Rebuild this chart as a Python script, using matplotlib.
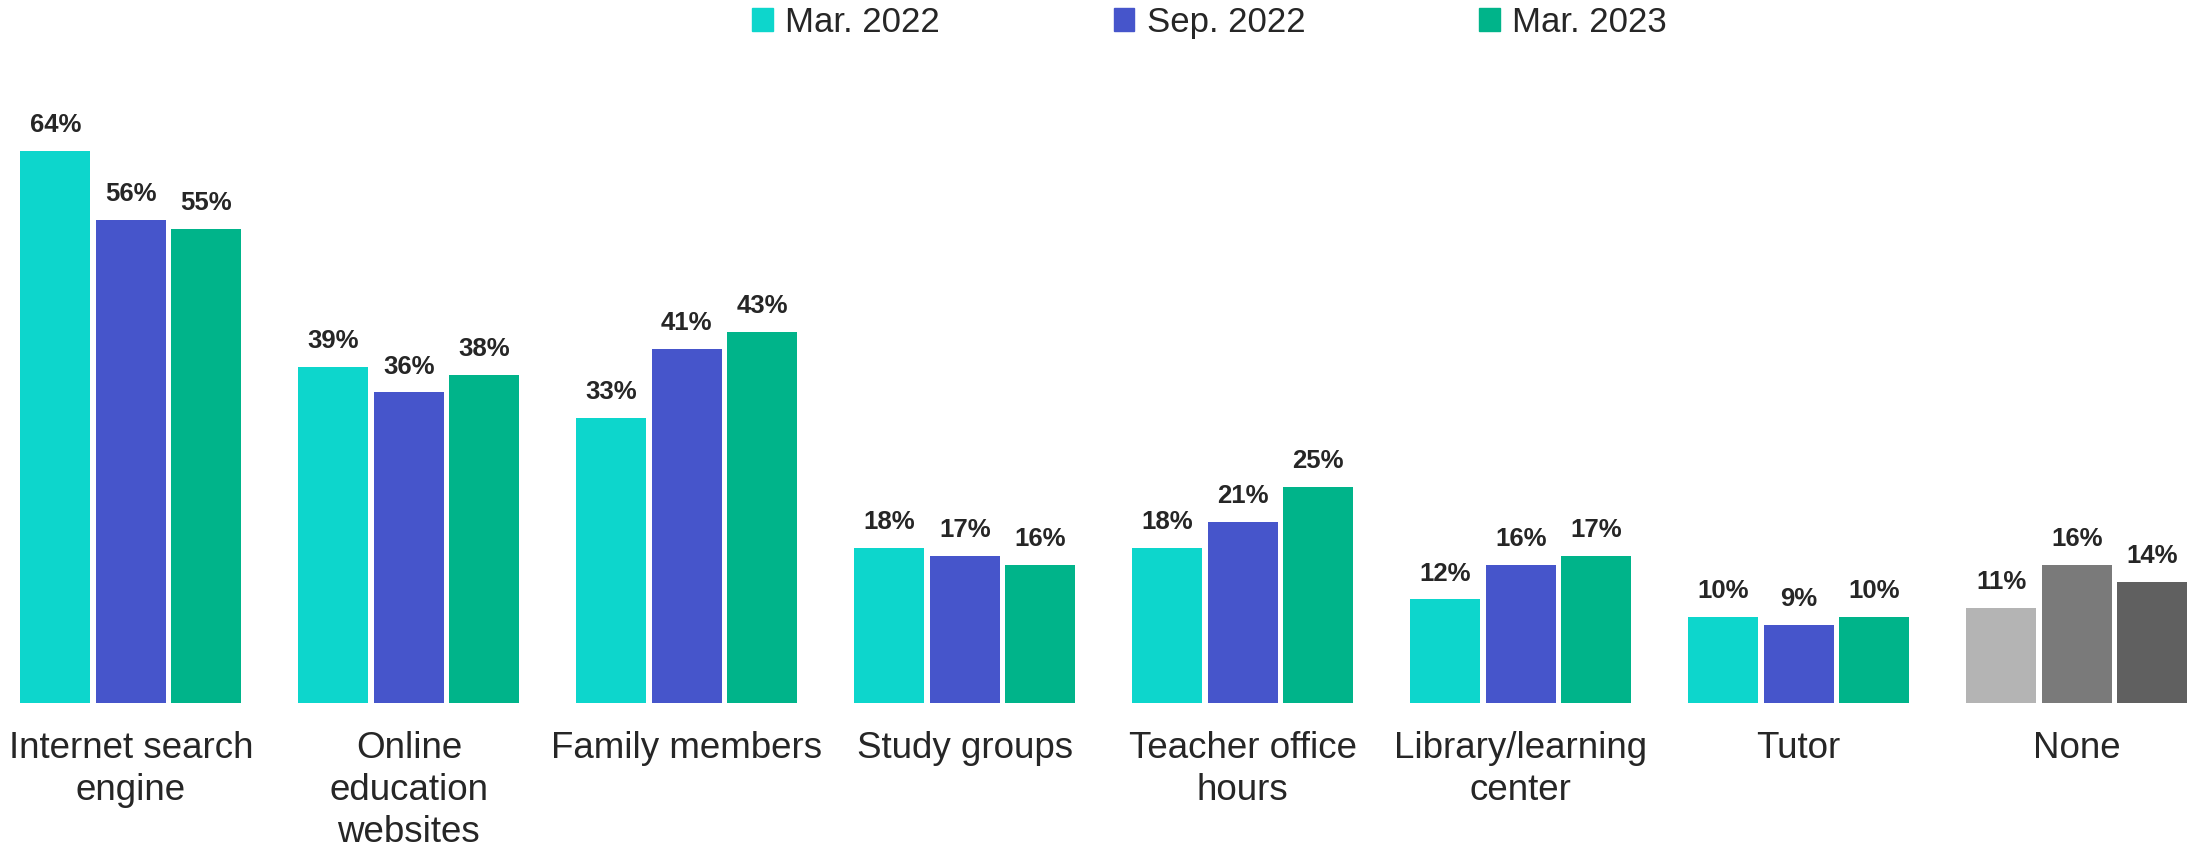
import matplotlib.pyplot as plt
import numpy as np
from matplotlib.patches import Patch

plt.rcParams['font.family'] = ['Liberation Sans', 'DejaVu Sans']

categories = ['Internet search\nengine', 'Online\neducation\nwebsites', 'Family members',
              'Study groups', 'Teacher office\nhours', 'Library/learning\ncenter', 'Tutor', 'None']
series = ['Mar. 2022', 'Sep. 2022', 'Mar. 2023']
mar22 = [64, 39, 33, 18, 18, 12, 10, 11]
sep22 = [56, 36, 41, 17, 21, 16, 9, 16]
mar23 = [55, 38, 43, 16, 25, 17, 10, 14]

colors = ['#0DD6CC', '#4655CB', '#00B48A']
none_colors = ['#B4B4B4', '#7A7A7A', '#606060']
text_color = '#262626'

fig = plt.figure(figsize=(21.87, 8.5), dpi=100)
ax = fig.add_axes([0, 0.173, 1, 0.827])

x = np.arange(len(categories))
step = 0.2716
width = 0.252
for i, vals in enumerate([mar22, sep22, mar23]):
    cols = [colors[i]] * (len(categories) - 1) + [none_colors[i]]
    bars = ax.bar(x + (i - 1) * step, vals, width=width, color=cols)
    for b, v in zip(bars, vals):
        ax.annotate('%d%%' % v, (b.get_x() + b.get_width() / 2, v), xytext=(0, 10),
                    textcoords='offset points', ha='center', va='bottom',
                    fontsize=18.5, fontweight='bold', color=text_color)

ax.set_xlim(-0.471, 7.397)
ax.set_ylim(0, 81.5)
ax.set_xticks(x)
ax.set_xticklabels(categories, fontsize=26.5, color=text_color, linespacing=1.27)
ax.tick_params(axis='x', length=0, pad=20)
ax.set_yticks([])
for s in ax.spines.values():
    s.set_visible(False)

handles = [Patch(color=c, label=s) for c, s in zip(colors, series)]
fig.legend(handles=handles, loc='upper center', bbox_to_anchor=(0.553, 1.03), ncol=3,
           frameon=False, fontsize=25, handlelength=0.6, handleheight=0.6,
           handletextpad=0.35, columnspacing=5.0, labelcolor=text_color)

fig.savefig('out.png', dpi=100)
